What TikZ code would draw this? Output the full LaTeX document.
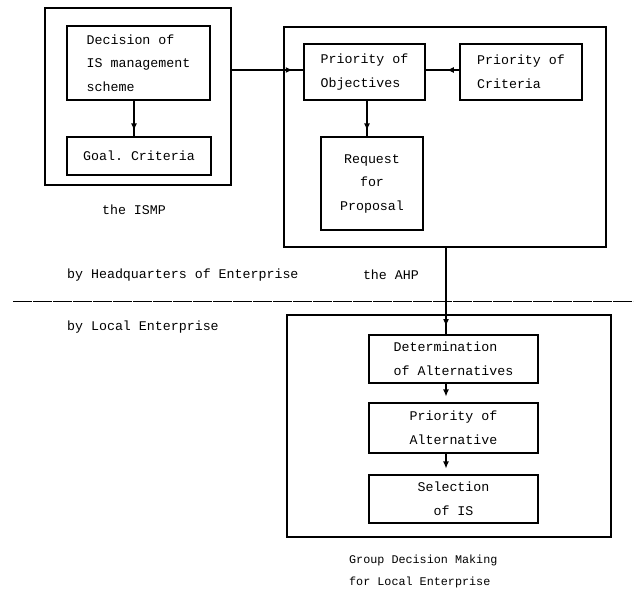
\documentclass[tikz,border=0pt]{standalone}
\usepackage{fontspec}
\setmonofont{Liberation Mono}
\usetikzlibrary{arrows.meta, positioning}

\begin{document}
\begin{tikzpicture}[x=0.85pt, y=-0.85pt, >={Latex[length=6pt,width=5pt]},
  font=\ttfamily\fontsize{11.3}{20}\selectfont,
  boxwh/.style 2 args={minimum width=#1*0.85pt, minimum height=#2*0.85pt},
  box/.style={draw, line width=1pt, inner sep=0pt},
  frame/.style={draw, line width=1.2pt, inner sep=0pt},
  flow/.style={line width=1pt},
  tipshort/.style={->, line width=1pt, shorten >=#1},
  sep/.style={line width=0.8pt, dash pattern=on 16pt off 1pt}]

\useasboundingbox (0,0) rectangle (637,591);

% -------------------------------------------------------
% 1. The ISMP (headquarters)
% -------------------------------------------------------
\node[frame, boxwh={186}{177}] (ismp) at (138,96.5) {};
\node[box, boxwh={143}{74}, align=left] (dec) at (138.5,63)
  {Decision of\\IS management\\scheme};
\node[box, boxwh={144}{38}] (goal) at (139,156) {Goal. Criteria};
\node (ismplabel) at (134,210) {the ISMP};

% -------------------------------------------------------
% 2. The AHP
% -------------------------------------------------------
\node[frame, boxwh={322}{220}] (ahp) at (445,137) {};
\node[box, boxwh={121}{56}, align=left] (obj) at (364.5,72)
  {Priority of\\Objectives};
\node[box, boxwh={122}{56}, align=left] (crit) at (521,72)
  {Priority of\\Criteria};
\node[box, boxwh={102}{93}, align=center] (req) at (372,183.5)
  {Request\\for\\Proposal};

% -------------------------------------------------------
% 3. Split between headquarters and local enterprise
% -------------------------------------------------------
\node[anchor=west] (hq) at (63,275) {by Headquarters of Enterprise};
\node[anchor=east] (ahplabel) at (423,275) {the AHP};
\draw[sep] (13,301) -- (633,301);
\node[anchor=west] (local) at (63,327) {by Local Enterprise};

% -------------------------------------------------------
% 4. Group decision making (local enterprise)
% -------------------------------------------------------
\node[frame, boxwh={324}{222}] (grp) at (449,426) {};
\node[box, boxwh={169}{48}, align=left] (det) at (453.5,359)
  {Determination\\of Alternatives};
\node[box, boxwh={169}{50}, align=left] (prio) at (453.5,428)
  {Priority of\\Alternative};
\node[box, boxwh={169}{48}, align=center] (sel) at (453.5,499)
  {Selection\\of IS};
\node[anchor=west, align=left, font=\ttfamily\fontsize{10}{18.7}\selectfont]
  (grplabel) at (345,571) {Group Decision Making\\for Local Enterprise};

% -------------------------------------------------------
% 5. Connectors (full line, then the tip a little short of the box)
% -------------------------------------------------------
\coordinate (drop) at (446,0);
\draw[flow] (dec.south -| ismplabel) -- (goal.north -| ismplabel);
\draw[tipshort=5pt] (dec.south -| ismplabel) -- (goal.north -| ismplabel);
\draw[flow] (ismp.east |- 0,70) -- (obj.west |- 0,70);
\draw[tipshort=9pt] (ismp.east |- 0,70) -- (obj.west |- 0,70);
\draw[flow] (crit.west |- 0,70) -- (obj.east |- 0,70);
\draw[tipshort=18pt] (crit.west |- 0,70) -- (obj.east |- 0,70);
\draw[flow] (obj.south -| 367,0) -- (req.north -| 367,0);
\draw[tipshort=5pt] (obj.south -| 367,0) -- (req.north -| 367,0);
\draw[flow] (ahp.south -| drop) -- (det.north -| drop);
\draw[tipshort=7pt] (ahp.south -| drop) -- (det.north -| drop);
\draw[tipshort=5pt] (det.south -| drop) -- (prio.north -| drop);
\draw[tipshort=5pt] (prio.south -| drop) -- (sel.north -| drop);

\end{tikzpicture}
\end{document}
